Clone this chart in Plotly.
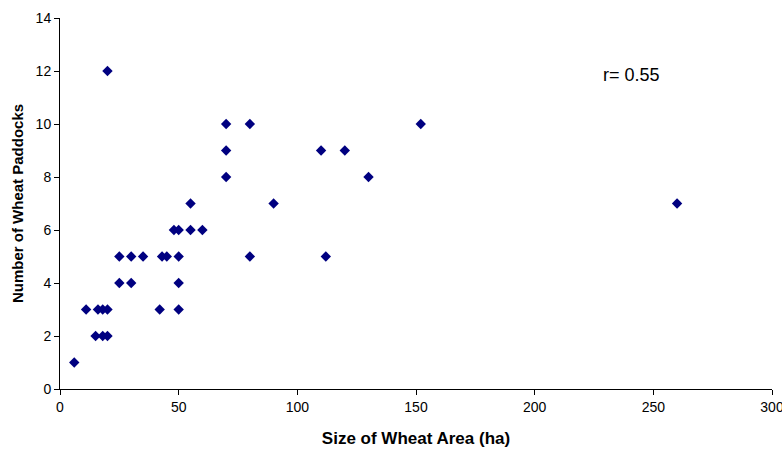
import plotly.graph_objects as go

# Wheat area (ha) per farm and the number of wheat paddocks on it
area_ha = [6, 15, 18, 20, 11, 16, 18, 20, 42, 50, 25, 30, 50, 25, 30, 35, 43, 45, 50,
           80, 112, 48, 50, 55, 60, 55, 90, 260, 70, 130, 70, 110, 120, 70, 80, 152, 20]
paddocks = [1, 2, 2, 2, 3, 3, 3, 3, 3, 3, 4, 4, 4, 5, 5, 5, 5, 5, 5,
            5, 5, 6, 6, 6, 6, 7, 7, 7, 8, 8, 9, 9, 9, 10, 10, 10, 12]

x_ticks = [0, 50, 100, 150, 200, 250, 300]
y_ticks = [0, 2, 4, 6, 8, 10, 12, 14]

FONT = "Arial, Liberation Sans, sans-serif"

fig = go.Figure(
    go.Scatter(
        x=area_ha,
        y=paddocks,
        mode="markers",
        marker=dict(symbol="diamond", size=8, color="#000080", line=dict(width=0)),
        showlegend=False,
    )
)

fig.add_annotation(
    x=241, y=11.86, xref="x", yref="y",
    text="r= 0.55", showarrow=False,
    font=dict(family=FONT, size=18, color="#000000"),
)

axis_common = dict(
    showgrid=False,
    zeroline=False,
    showline=True,
    linecolor="#000000",
    linewidth=1,
    ticks="outside",
    ticklen=5,
    tickwidth=1,
    tickcolor="#000000",
    ticklabeloverflow="allow",
    tickfont=dict(family=FONT, size=14, color="#000000"),
)

fig.update_xaxes(
    range=[0, 300],
    tickvals=x_ticks,
    title=dict(text="<b>Size of Wheat Area (ha)</b>", standoff=18,
               font=dict(family=FONT, size=17, color="#000000")),
    **axis_common,
)
fig.update_yaxes(
    range=[0, 14],
    tickvals=y_ticks,
    title=dict(text="<b>Number of Wheat Paddocks</b>", standoff=8,
               font=dict(family=FONT, size=15, color="#000000")),
    **axis_common,
)

fig.update_layout(
    width=782,
    height=451,
    margin=dict(l=60, r=10, t=18, b=62, autoexpand=False),
    paper_bgcolor="#ffffff",
    plot_bgcolor="#ffffff",
)

fig.write_html("out.html")
